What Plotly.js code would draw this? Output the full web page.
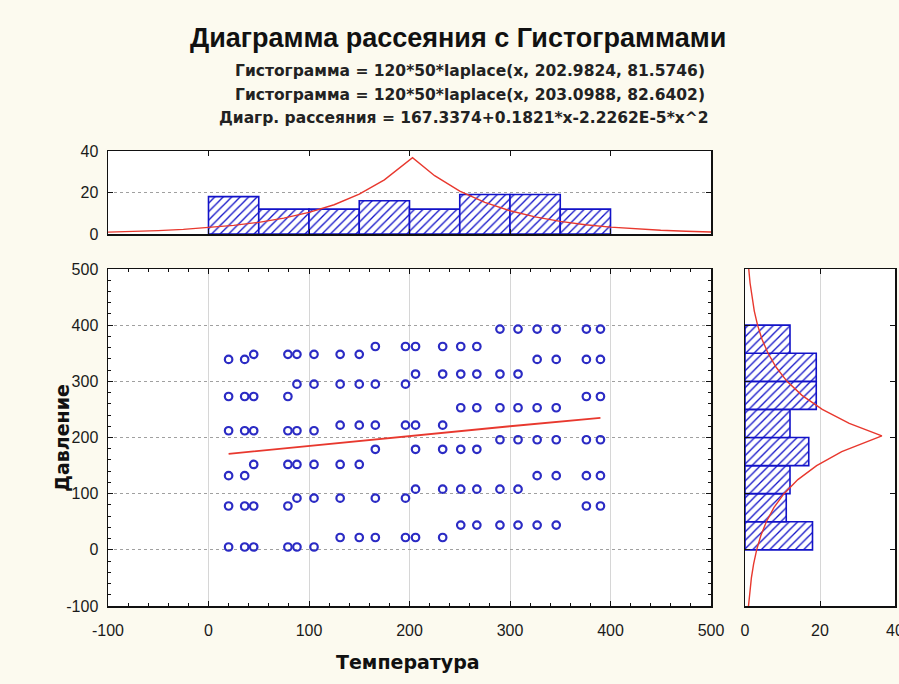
<!DOCTYPE html>
<html>
<head>
<meta charset="utf-8">
<script src="https://cdn.plot.ly/plotly-3.0.1.min.js"></script>
<style>
html,body{margin:0;padding:0;background:#FCFAEF;}
#chart{width:899px;height:684px;}
</style>
</head>
<body>
<div id="chart"></div>
<script>
// ---- data ----
// scatter: Температура (x) vs Давление (y)
const tempX = [
  290,308,327,346,376,390,
  166,196,206,233,251,267,
  45,79,88,105,131,150,
  20,36,327,346,376,390,
  206,233,251,267,290,308,
  88,105,131,150,166,196,
  20,36,45,79,376,390,
  251,267,290,308,327,346,
  131,150,166,196,206,233,
  20,36,45,79,88,105,
  290,308,327,346,376,390,
  166,206,233,251,267,
  45,79,88,105,131,150,
  20,36,327,346,376,390,
  206,233,251,267,290,308,
  88,105,131,166,196,
  20,36,45,79,376,390,
  251,267,290,308,327,346,
  131,150,166,196,206,233,
  20,36,45,79,88,105
];
const pressY = [
  393,393,393,393,393,393,
  362,362,362,362,362,362,
  348,348,348,348,348,348,
  339,339,339,339,339,339,
  313,313,313,313,313,313,
  295,295,295,295,295,295,
  273,273,273,273,273,273,
  253,253,253,253,253,253,
  222,222,222,222,222,222,
  212,212,212,212,212,212,
  196,196,196,196,196,196,
  179,179,179,179,179,
  152,152,152,152,152,152,
  132,132,132,132,132,132,
  108,108,108,108,108,108,
  92,92,92,92,92,
  78,78,78,78,78,78,
  44,44,44,44,44,44,
  22,22,22,22,22,22,
  5,5,5,5,5,5
];

// fitted regression line (Диагр. рассеяния)
const fitX = [20, 100, 200, 300, 390];
const fitY = [171.0, 185.3, 202.9, 220.0, 235.0];

// histogram of Температура (bin centres, counts)
const tempBins = [25, 75, 125, 175, 225, 275, 325, 375];
const tempCounts = [18, 12, 12, 16, 12, 19, 19, 12];
// histogram of Давление
const pressBins = [25, 75, 125, 175, 225, 275, 325, 375];
const pressCounts = [18, 11, 12, 17, 12, 19, 19, 12];

// Laplace fit curves
const curveTX = [-100,-75,-50,-25,0,25,50,75,100,125,150,175,203,225,250,275,300,325,350,375,400,425,450,475,500];
const curveTY = [0.9,1.22,1.65,2.25,3.05,4.15,5.63,7.66,10.4,14.1,19.2,26.1,36.8,28.1,20.7,15.2,11.2,8.24,6.07,4.47,3.29,2.42,1.78,1.31,0.96];
const curvePY = [-100,-75,-50,-25,0,25,50,75,100,125,150,175,203,225,250,275,300,325,350,375,400,425,450,475,500];
const curvePX = [0.93,1.25,1.7,2.3,3.11,4.21,5.69,7.7,10.4,14.1,19.1,25.8,36.5,27.8,20.6,15.2,11.2,8.31,6.14,4.53,3.35,2.48,1.83,1.35,1.0];

// tick labels
const mainTicks = [-100, 0, 100, 200, 300, 400, 500];
const mainTickText = ['-100', '0', '100', '200', '300', '400', '500'];
const histTicks = [0, 20, 40];
const histTickText = ['0', '20', '40'];

// ---- styling ----
const W = 899, H = 684;
const px = v => v / W, py = v => 1 - v / H;
const blue = '#2B2BC4', barLine = '#1212C8', red = '#E8382E';
const tickFont = {family: 'Liberation Sans, Arial, sans-serif', size: 16, color: '#1a1a1a'};
const titleFam = 'DejaVu Sans, Liberation Sans, sans-serif';

const traces = [
  {type:'scatter', mode:'markers', x: tempX, y: pressY, xaxis:'x', yaxis:'y',
   marker:{symbol:'circle-open', size:7.5, color: blue, line:{width:2.2, color: blue}}},
  {type:'scatter', mode:'lines', x: fitX, y: fitY, xaxis:'x', yaxis:'y',
   line:{color: red, width:1.8}},
  {type:'bar', x: tempBins, y: tempCounts, width: 50, xaxis:'x2', yaxis:'y2',
   marker:{color:'white', line:{color: barLine, width:1.6},
     pattern:{shape:'/', fgcolor: barLine, bgcolor:'white', size:6, solidity:0.22}}},
  {type:'scatter', mode:'lines', x: curveTX, y: curveTY, xaxis:'x2', yaxis:'y2',
   line:{color: red, width:1.4}},
  {type:'bar', orientation:'h', y: pressBins, x: pressCounts, width: 50, xaxis:'x3', yaxis:'y3',
   marker:{color:'white', line:{color: barLine, width:1.6},
     pattern:{shape:'/', fgcolor: barLine, bgcolor:'white', size:6, solidity:0.22}}},
  {type:'scatter', mode:'lines', x: curvePX, y: curvePY, xaxis:'x3', yaxis:'y3',
   line:{color: red, width:1.4}}
];

const baseAxis = {showline:true, linecolor:'#111', linewidth:1.5, mirror:'ticks',
  ticks:'inside', ticklen:5, tickcolor:'#111', zeroline:false, tickfont: tickFont, fixedrange:true};

const mainDomX = [px(108), px(711)];
const mainDomY = [py(606), py(269)];

const layout = {
  width: W, height: H,
  margin:{l:0, r:0, t:0, b:0},
  paper_bgcolor:'#FCFAEF', plot_bgcolor:'white',
  showlegend:false, bargap:0,
  xaxis: Object.assign({}, baseAxis, {domain: mainDomX, range:[-100,500],
    tickvals: mainTicks, ticktext: mainTickText, ticklabelstandoff: 9,
    showgrid:true, gridcolor:'#d6d6d6', gridwidth:1,
    minor:{ticks:'inside', dtick:20, tick0:0, ticklen:3, tickcolor:'#111', showgrid:false}}),
  yaxis: Object.assign({}, baseAxis, {domain: mainDomY, range:[-100,500],
    tickvals: mainTicks, ticktext: mainTickText, ticklabelstandoff: 5,
    showgrid:true, gridcolor:'#a0a0a0', griddash:'dot', gridwidth:1,
    minor:{ticks:'inside', dtick:20, tick0:0, ticklen:3, tickcolor:'#111', showgrid:false}}),
  xaxis2: Object.assign({}, baseAxis, {domain: mainDomX, range:[-100,500], dtick:100, tick0:0,
    anchor:'y2', showticklabels:false, showgrid:false}),
  yaxis2: Object.assign({}, baseAxis, {domain:[py(234), py(151)], range:[0,40],
    tickvals: histTicks, ticktext: histTickText, ticklabelstandoff: 5,
    anchor:'x2', showgrid:true, gridcolor:'#a0a0a0', griddash:'dot'}),
  xaxis3: Object.assign({}, baseAxis, {domain:[px(745), px(895)], range:[0,40],
    tickvals: histTicks, ticktext: histTickText, ticklabelstandoff: 9, ticklabeloverflow:'allow',
    anchor:'y3', showgrid:true, gridcolor:'#d6d6d6'}),
  yaxis3: Object.assign({}, baseAxis, {domain: mainDomY, range:[-100,500], dtick:100, tick0:0,
    anchor:'x3', showticklabels:false, showgrid:false}),
  annotations: [
    {text:'<b>Диаграмма рассеяния с Гистограммами</b>', xref:'paper', yref:'paper',
     x: px(458), y: py(38), xanchor:'center', yanchor:'middle', showarrow:false,
     font:{family:'Liberation Sans, Arial, sans-serif', size:27, color:'#111'}},
    {text:'<b>Гистограмма = 120*50*laplace(x, 202.9824, 81.5746)</b>', xref:'paper', yref:'paper',
     x: px(470), y: py(71), xanchor:'center', yanchor:'middle', showarrow:false,
     font:{family: titleFam, size:15.5, color:'#222'}},
    {text:'<b>Гистограмма = 120*50*laplace(x, 203.0988, 82.6402)</b>', xref:'paper', yref:'paper',
     x: px(470), y: py(95), xanchor:'center', yanchor:'middle', showarrow:false,
     font:{family: titleFam, size:15.5, color:'#222'}},
    {text:'<b>Диагр. рассеяния = 167.3374+0.1821*x-2.2262E-5*x^2</b>', xref:'paper', yref:'paper',
     x: px(464), y: py(118), xanchor:'center', yanchor:'middle', showarrow:false,
     font:{family: titleFam, size:15.5, color:'#222'}},
    {text:'<b>Температура</b>', xref:'paper', yref:'paper',
     x: px(408), y: py(662), xanchor:'center', yanchor:'middle', showarrow:false,
     font:{family: titleFam, size:19, color:'#111'}},
    {text:'<b>Давление</b>', xref:'paper', yref:'paper', textangle:-90,
     x: px(62), y: py(438), xanchor:'center', yanchor:'middle', showarrow:false,
     font:{family: titleFam, size:19, color:'#111'}}
  ]
};

Plotly.newPlot('chart', traces, layout, {staticPlot:true, displayModeBar:false});
</script>
</body>
</html>
